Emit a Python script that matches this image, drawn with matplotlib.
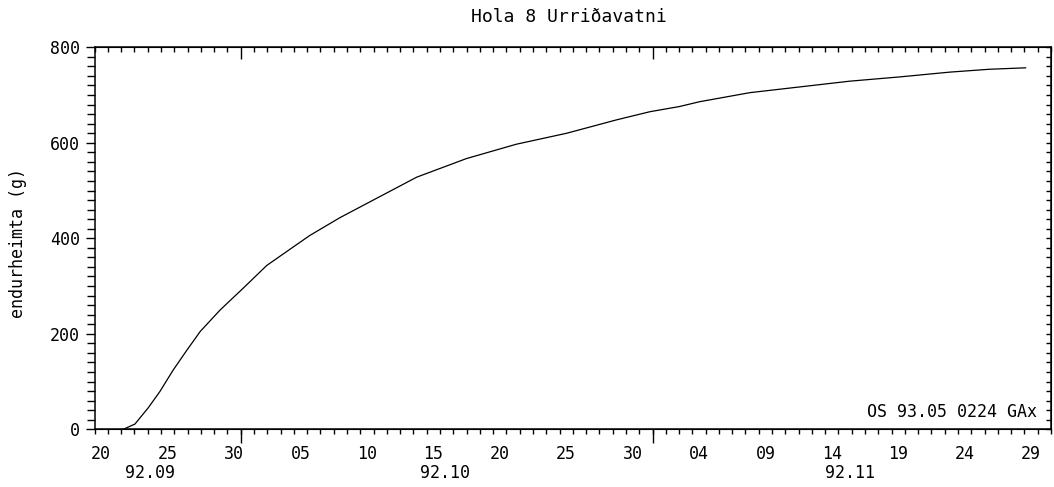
import numpy as np
import pandas as pd
import matplotlib
matplotlib.use("Agg")
import matplotlib.pyplot as plt
import matplotlib.dates as mdates
import matplotlib.transforms as mtransforms

# cumulative recovery, hola 8, sept-nov 1992
times = [
    "1992-09-22 04:00", "1992-09-23 01:00", "1992-09-24 01:00", "1992-09-24 22:00",
    "1992-09-25 22:00", "1992-09-26 23:00", "1992-09-27 23:00", "1992-09-29 11:00",
    "1992-10-01 05:00", "1992-10-02 23:00", "1992-10-04 17:00", "1992-10-06 05:00",
    "1992-10-08 11:00", "1992-10-10 12:00", "1992-10-14 06:00", "1992-10-18 00:00",
    "1992-10-21 18:00", "1992-10-25 13:00", "1992-10-29 07:00", "1992-10-31 19:00",
    "1992-11-03 01:00", "1992-11-04 13:00", "1992-11-08 08:00", "1992-11-12 02:00",
    "1992-11-15 20:00", "1992-11-19 15:00", "1992-11-23 09:00", "1992-11-26 09:00",
    "1992-11-29 02:00",
]
recovery = [
    0, 11, 45, 79, 124, 166, 205, 250, 296, 343, 377, 406, 443, 473, 528, 567,
    597, 620, 648, 665, 676, 686, 705, 717, 729, 738, 748, 754, 757,
]

title = "Hola 8 Urriðavatni"
ylabel = "endurheimta (g)"
stamp = "OS 93.05 0224 GAx"
month_labels = ["92.09", "92.10", "92.11"]
month_label_at = ["1992-09-24 04:00", "1992-10-16 09:00", "1992-11-15 20:00"]
month_starts = ["1992-10-01", "1992-11-01"]
t_start, t_end = "1992-09-20", "1992-12-01"

plt.rcParams["font.family"] = ["DejaVu Sans Mono", "DejaVu Sans"]
fs = 12

x = mdates.date2num(pd.to_datetime(times))
x0, x1 = mdates.date2num(pd.to_datetime([t_start, t_end]))

fig = plt.figure(figsize=(10.54, 4.87), dpi=100)
ax = fig.add_axes([0.0897, 0.1185, 0.9075, 0.7844])
ax.plot(x, recovery, color="black", lw=0.9)
ax.set_xlim(x0, x1)
ax.set_ylim(0, 800)
for s in ax.spines.values():
    s.set_linewidth(1.1)

# day numbers every 5th day, centred on the day
label_days = pd.date_range("1992-09-20 12:00", "1992-11-29 12:00", freq="5D")
ax.set_xticks(mdates.date2num(label_days))
ax.set_xticklabels([d.strftime("%d") for d in label_days])
ax.set_xticks(mdates.date2num(pd.date_range(t_start, t_end, freq="D")), minor=True)
ax.tick_params(axis="x", which="major", length=0, pad=11, labelsize=fs)
ax.tick_params(axis="x", which="minor", direction="out", length=3.6, width=1)

# long ticks at month boundaries
bot = ax.secondary_xaxis("bottom")
bot.set_xticks(mdates.date2num(pd.to_datetime(month_starts)))
bot.tick_params(axis="x", direction="out", length=10, width=1, labelbottom=False)

top = ax.secondary_xaxis("top")
top.set_xticks(mdates.date2num(pd.to_datetime(month_starts)))
top.set_xticks(mdates.date2num(pd.date_range(t_start, t_end, freq="D")), minor=True)
top.tick_params(axis="x", which="major", direction="in", length=8.5, width=1, labeltop=False)
top.tick_params(axis="x", which="minor", direction="in", length=3.6, width=1)

ax.set_yticks(np.arange(0, 801, 200))
ax.set_yticks(np.arange(0, 801, 20), minor=True)
ax.tick_params(axis="y", which="major", direction="out", length=6.5, width=1, pad=4, labelsize=fs)
ax.tick_params(axis="y", which="minor", direction="out", length=5.5, width=1)

right = ax.secondary_yaxis("right")
right.set_yticks(np.arange(0, 801, 20))
right.tick_params(axis="y", direction="in", length=3.6, width=1, labelright=False)

trans = mtransforms.blended_transform_factory(ax.transData, ax.transAxes)
for lab, d in zip(month_labels, month_label_at):
    ax.text(mdates.date2num(pd.Timestamp(d)), -0.115, lab, transform=trans,
            ha="center", va="center", fontsize=fs)

ax.text(0.985, 0.045, stamp, transform=ax.transAxes, ha="right", va="center", fontsize=fs)

fig.text(18 / 1054, 0.5, ylabel, rotation=90, ha="center", va="center", fontsize=fs)
fig.text(569 / 1054, 1 - 17 / 487, title, ha="center", va="center", fontsize=13)

fig.savefig("out.png", dpi=100)
